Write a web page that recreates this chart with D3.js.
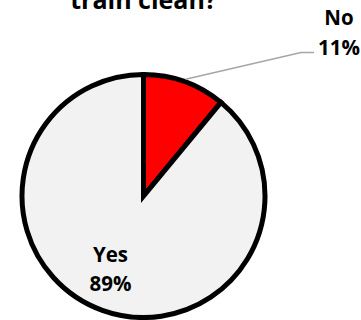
<!DOCTYPE html>
<html>
<head>
<meta charset="utf-8">
<script src="https://cdn.jsdelivr.net/npm/d3@7"></script>
<style>
  html, body { margin: 0; padding: 0; background: #fff; }
  svg { display: block; }
</style>
</head>
<body>
<script>
// Survey answers: was the train clean?
const categories = ["No", "Yes"];
const values = [11, 89];
const valueLabels = ["11%", "89%"];
const colors = ["#ff0000", "#f2f2f2"];
const title = "train clean?";

const width = 361, height = 320;
const cx = 143.5, cy = 196, r = 121.5;
const font = "'Open Sans', 'DejaVu Sans', sans-serif";

const svg = d3.select("body").append("svg")
  .attr("width", width).attr("height", height);

svg.append("text")
  .attr("x", cx).attr("y", 9)
  .attr("text-anchor", "middle")
  .attr("font-family", font).attr("font-weight", 700)
  .attr("font-size", 25).attr("fill", "#000")
  .text(title);

const pie = d3.pie().sort(null).value(d => d);
const arcs = pie(values);
const arc = d3.arc().innerRadius(0).outerRadius(r);

const g = svg.append("g").attr("transform", `translate(${cx},${cy})`);

g.selectAll("path.slice").data(arcs).join("path")
  .attr("class", "slice")
  .attr("d", arc)
  .attr("fill", (d, i) => colors[i])
  .attr("stroke", "#000")
  .attr("stroke-width", 5)
  .attr("stroke-linejoin", "miter");

// Leader line for the small "No" slice
const noArc = arcs[0];
const mid = (noArc.startAngle + noArc.endAngle) / 2;
const edgeR = r + 2.5;
const p0 = [cx + Math.sin(mid) * edgeR, cy - Math.cos(mid) * edgeR];
const p1 = [301, 52.5];
const p2 = [314, 52.5];
svg.append("polyline")
  .attr("points", [p0, p1, p2].map(p => p.join(",")).join(" "))
  .attr("fill", "none")
  .attr("stroke", "#a6a6a6")
  .attr("stroke-width", 1.5);

// Data labels
const labelPos = [[339, 25, 55], [110.5, 262, 291]];
labelPos.forEach(([x, y1, y2], i) => {
  const t = svg.append("text")
    .attr("text-anchor", "middle")
    .attr("font-family", font).attr("font-weight", 700)
    .attr("font-size", 20.5).attr("fill", "#000");
  t.append("tspan").attr("x", x).attr("y", y1).text(categories[i]);
  t.append("tspan").attr("x", x).attr("y", y2).text(valueLabels[i]);
});
</script>
</body>
</html>
